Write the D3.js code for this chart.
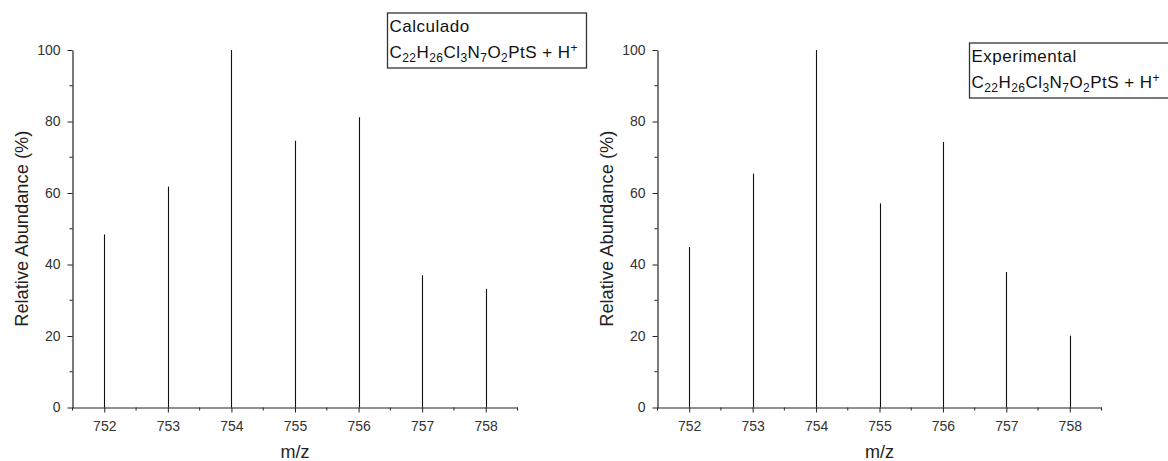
<!DOCTYPE html>
<html>
<head>
<meta charset="utf-8">
<script src="https://cdn.jsdelivr.net/npm/d3@7"></script>
<style>
  html, body { margin: 0; padding: 0; background: #fff; }
  svg { display: block; font-family: "Liberation Sans", Arial, sans-serif; }
</style>
</head>
<body>
<svg id="chart" width="1168" height="461"></svg>
<script>
// Isotope pattern of [C22H26Cl3N7O2PtS + H]+ : calculated vs. experimental
const massLabels = [752, 753, 754, 755, 756, 757, 758];
const calculatedAbundance = [48.4, 61.8, 100, 74.6, 81.2, 37.0, 33.2];
const experimentalAbundance = [44.9, 65.4, 100, 57.1, 74.3, 37.9, 20.1];
const yTicks = [0, 20, 40, 60, 80, 100];
const yMinorTicks = [10, 30, 50, 70, 90];
const xMinorTicks = [751.5, 752.5, 753.5, 754.5, 755.5, 756.5, 757.5, 758.5];
const panelTitles = ["Calculado", "Experimental"];

const svg = d3.select("#chart");

// formula pieces: [text, kind] where kind is "n" normal, "sub", "sup"
const formula = [
  ["C", "n"], ["22", "sub"], ["H", "n"], ["26", "sub"], ["Cl", "n"], ["3", "sub"],
  ["N", "n"], ["7", "sub"], ["O", "n"], ["2", "sub"], ["PtS + H", "n"], ["+", "sup"]
];

function drawPanel(cfg) {
  const x = d3.scaleLinear().domain([751.5, 758.5]).range([cfg.left, cfg.right]);
  const y = d3.scaleLinear().domain([0, 100]).range([cfg.bottom, cfg.top]);
  const g = svg.append("g");

  // sticks
  g.append("g").selectAll("line")
    .data(massLabels.map((m, i) => ({ m, v: cfg.values[i] })))
    .join("line")
    .attr("x1", d => Math.round(x(d.m)) + 0.5)
    .attr("x2", d => Math.round(x(d.m)) + 0.5)
    .attr("y1", y(0))
    .attr("y2", d => y(d.v))
    .attr("stroke", "#111")
    .attr("stroke-width", 1.1);

  // x axis
  const xAxis = g.append("g").attr("transform", `translate(0,${y(0)})`)
    .call(d3.axisBottom(x).tickValues(massLabels).tickFormat(d3.format("d"))
      .tickSize(5).tickPadding(9).tickSizeOuter(0));
  xAxis.append("g").selectAll("line").data(xMinorTicks).join("line")
    .attr("x1", d => x(d)).attr("x2", d => x(d))
    .attr("y1", 0).attr("y2", 3).attr("stroke", "#222");

  // y axis
  const yAxis = g.append("g").attr("transform", `translate(${cfg.left},0)`)
    .call(d3.axisLeft(y).tickValues(yTicks).tickSize(5).tickPadding(7).tickSizeOuter(0));
  yAxis.append("g").selectAll("line").data(yMinorTicks).join("line")
    .attr("y1", d => y(d)).attr("y2", d => y(d))
    .attr("x1", 0).attr("x2", -3).attr("stroke", "#222");

  [xAxis, yAxis].forEach(a => {
    a.select(".domain").attr("stroke", "#222").attr("stroke-width", 1.2);
    a.selectAll(".tick line").attr("stroke", "#222");
    a.selectAll(".tick text").attr("font-size", 14).attr("fill", "#333")
      .attr("font-family", "'Liberation Sans', Arial, sans-serif");
  });

  // axis titles
  g.append("text")
    .attr("x", (cfg.left + cfg.right) / 2).attr("y", 458)
    .attr("text-anchor", "middle").attr("font-size", 18).attr("fill", "#222")
    .text("m/z");
  g.append("text")
    .attr("transform", `translate(${cfg.left - 45},${(cfg.top + cfg.bottom) / 2}) rotate(-90)`)
    .attr("text-anchor", "middle").attr("font-size", 18.3).attr("fill", "#222")
    .text("Relative Abundance (%)");

  // legend box
  const lg = g.append("g");
  lg.append("rect")
    .attr("x", cfg.boxX).attr("y", cfg.boxY)
    .attr("width", cfg.boxW).attr("height", 55)
    .attr("fill", "#fff").attr("stroke", "#333").attr("stroke-width", 1.3);
  lg.append("text")
    .attr("x", cfg.boxX + 2).attr("y", cfg.boxY + 18.5)
    .attr("font-size", 17).attr("letter-spacing", 0.5).attr("fill", "#111")
    .text(cfg.title);
  const ft = lg.append("text")
    .attr("x", cfg.boxX + 2).attr("y", cfg.boxY + 45)
    .attr("font-size", 17).attr("letter-spacing", 0.45).attr("fill", "#111");
  let shift = 0;
  formula.forEach(([t, kind]) => {
    const target = kind === "sub" ? 4 : kind === "sup" ? -6 : 0;
    ft.append("tspan")
      .attr("dy", target - shift)
      .attr("font-size", kind === "n" ? 17 : 12)
      .text(t);
    shift = target;
  });
}

drawPanel({
  left: 72.5, right: 517.5, top: 50, bottom: 407.5,
  values: calculatedAbundance, title: panelTitles[0],
  boxX: 387.5, boxY: 13, boxW: 199
});
drawPanel({
  left: 657.5, right: 1101.5, top: 50, bottom: 407.5,
  values: experimentalAbundance, title: panelTitles[1],
  boxX: 969.5, boxY: 43, boxW: 205
});
</script>
</body>
</html>
